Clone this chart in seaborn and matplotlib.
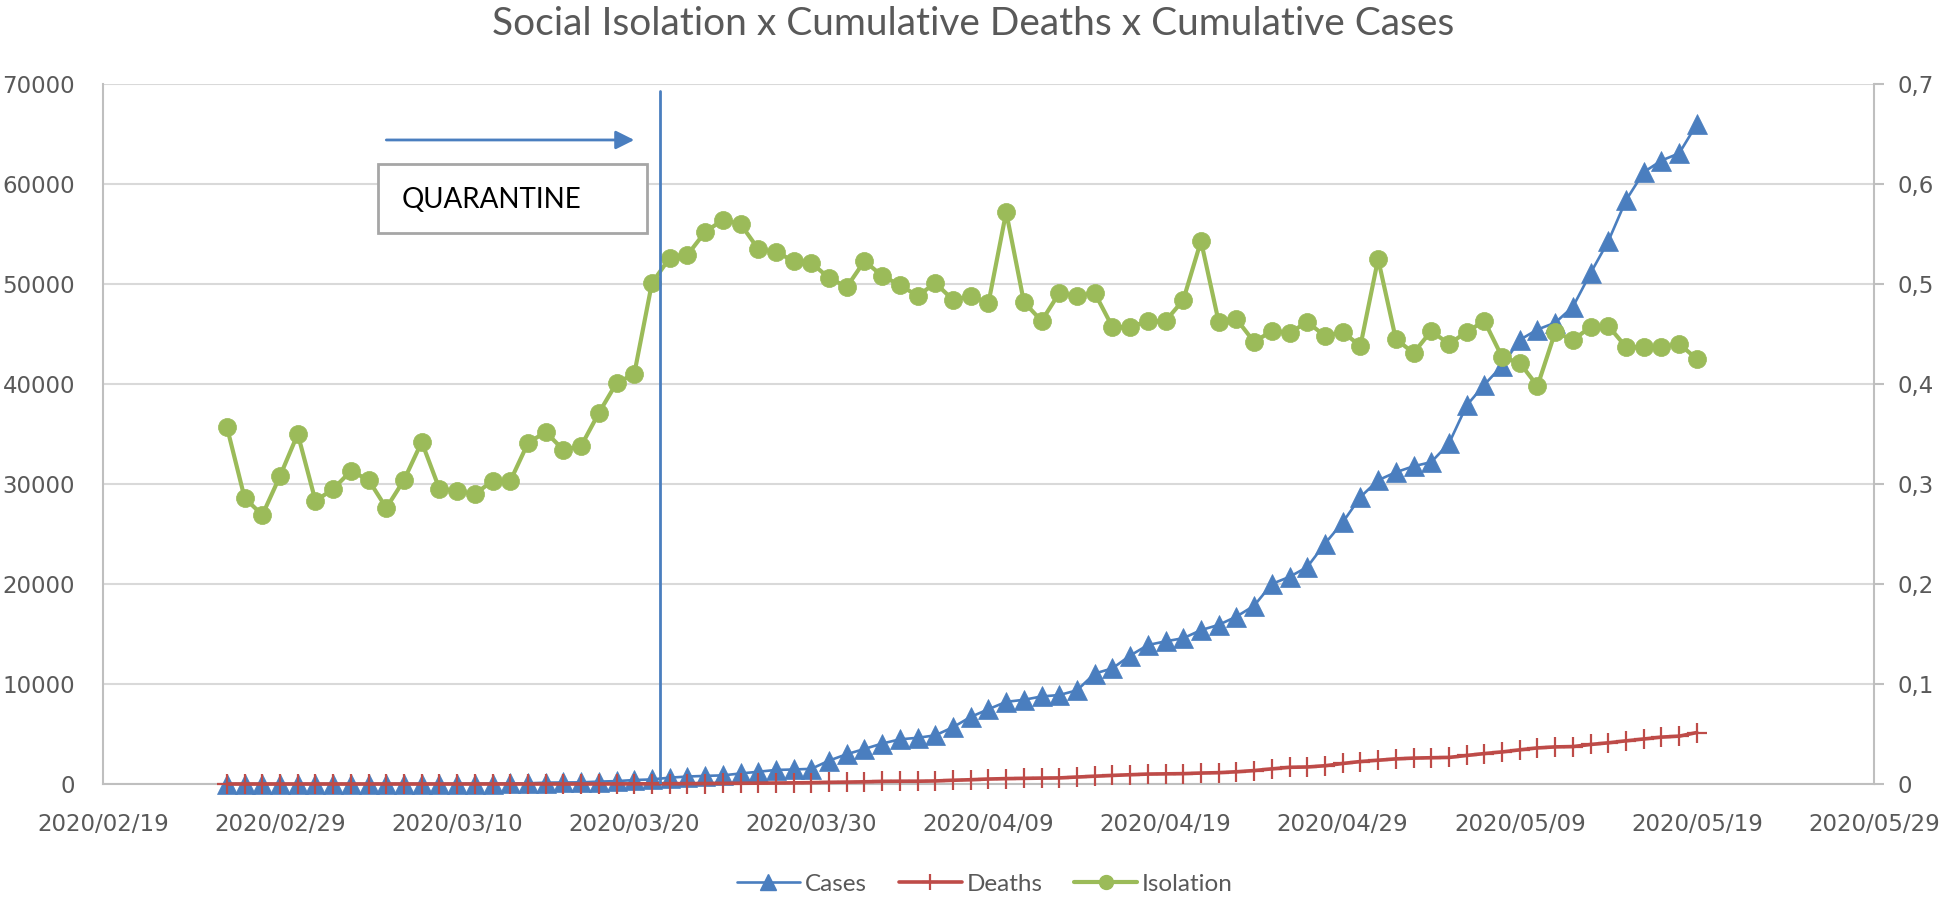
import numpy as np
import pandas as pd
import matplotlib
matplotlib.use("Agg")
import matplotlib.pyplot as plt
import matplotlib.dates as mdates
import seaborn as sns
from matplotlib.patches import Rectangle
from matplotlib.lines import Line2D

# ---------------- data ----------------
start_date = "2020-02-26"
end_date = "2020-05-19"

cases = [1, 1, 1, 2,
         2, 2, 2, 3, 6, 10, 13, 16, 16, 19, 30, 42, 56, 65, 136, 152, 164, 240, 286, 396,
         459, 631, 745, 810, 862, 1052, 1223, 1406, 1451, 1517, 2339,
         2981, 3506, 4048, 4466, 4620, 4866, 5682, 6708, 7480, 8216, 8419, 8755, 8895, 9371,
         11043, 11568, 12841, 13894, 14267, 14580, 15385, 15914, 16740, 17826, 20004, 20715,
         21696, 24041, 26158, 28698,
         30374, 31174, 31772, 32187, 34053, 37853, 39928, 41830, 44411, 45444, 46131, 47719,
         51097, 54286, 58378, 61183, 62345, 63066, 65995]

deaths = [0, 0, 0, 0,
          0, 0, 0, 0, 0, 0, 0, 0, 0, 0, 0, 0, 0, 0, 0, 0, 1, 4, 9, 15,
          22, 30, 40, 48, 58, 68, 84, 98, 113, 136, 164,
          188, 219, 260, 275, 275, 304, 371, 428, 496, 540, 560, 588, 608, 695,
          778, 853, 928, 991, 1015, 1037, 1093, 1134, 1221, 1345, 1512, 1667,
          1700, 1825, 2049, 2247,
          2375, 2511, 2586, 2627, 2654, 2851, 3045, 3206, 3416, 3608, 3709, 3743,
          3949, 4118, 4315, 4501, 4688, 4782, 5147]

isolation = [0.357, 0.286, 0.269, 0.308,
             0.350, 0.283, 0.295, 0.313, 0.304, 0.276, 0.304, 0.342, 0.295, 0.293,
             0.290, 0.303, 0.303, 0.341, 0.352, 0.334, 0.338, 0.371, 0.401, 0.410,
             0.501, 0.526, 0.529, 0.552, 0.564, 0.560, 0.535, 0.532, 0.523, 0.521, 0.506,
             0.497, 0.523, 0.508, 0.499, 0.488, 0.501, 0.484, 0.488, 0.481, 0.572,
             0.482, 0.463, 0.491, 0.488, 0.491, 0.457, 0.457, 0.463, 0.463, 0.484,
             0.543, 0.462, 0.465, 0.442, 0.453, 0.451, 0.462, 0.448, 0.452, 0.438,
             0.525, 0.445, 0.431, 0.453, 0.440, 0.452, 0.463, 0.427, 0.421, 0.398,
             0.452, 0.444, 0.457, 0.458, 0.437, 0.437, 0.437, 0.440, 0.425]

x_tick_dates = ["2020-02-19", "2020-02-29", "2020-03-10", "2020-03-20", "2020-03-30",
                "2020-04-09", "2020-04-19", "2020-04-29", "2020-05-09", "2020-05-19",
                "2020-05-29"]
left_ticks = [0, 10000, 20000, 30000, 40000, 50000, 60000, 70000]
right_ticks = [0, 0.1, 0.2, 0.3, 0.4, 0.5, 0.6, 0.7]
right_tick_labels = ["0", "0,1", "0,2", "0,3", "0,4", "0,5", "0,6", "0,7"]

title = "Social Isolation x Cumulative Deaths x Cumulative Cases"
quarantine_label = "QUARANTINE"
quarantine_line_date = "2020-03-21 11:00"
arrow_from_date = "2020-03-06"
arrow_to_date = "2020-03-20"
arrow_level = 64400

dates = pd.date_range(start_date, end_date, freq="D")
df = pd.DataFrame({"date": dates, "Cases": cases, "Deaths": deaths, "Isolation": isolation})

# ---------------- style ----------------
BLUE = "#4A7EBF"
RED = "#BE4B48"
GREEN = "#9BBB59"
GREY_TXT = "#595959"
GRID = "#D9D9D9"
AXIS = "#BFBFBF"

sns.set_theme(style="white")
plt.rcParams["font.family"] = ["DejaVu Sans"]

fig = plt.figure(figsize=(19.46, 9.0), dpi=100)
ax = fig.add_axes([0.0529, 0.1289, 0.9101, 0.7778])

sns.lineplot(data=df, x="date", y="Cases", ax=ax, color=BLUE, linewidth=1.9,
             marker="^", markersize=15, markeredgecolor=BLUE, markeredgewidth=0.5,
             clip_on=False, zorder=3)
sns.lineplot(data=df, x="date", y="Deaths", ax=ax, color=RED, linewidth=2.6,
             marker="+", markersize=14, markeredgecolor=RED, markeredgewidth=1.6,
             clip_on=False, zorder=4)

ax.set_xlim(pd.Timestamp(x_tick_dates[0]), pd.Timestamp(x_tick_dates[-1]))
ax.set_xticks(pd.to_datetime(x_tick_dates))
ax.xaxis.set_major_formatter(mdates.DateFormatter("%Y/%m/%d"))
ax.set_ylim(left_ticks[0], left_ticks[-1])
ax.set_yticks(left_ticks)
ax.set_xlabel("")
ax.set_ylabel("")
ax.grid(False)
ax.yaxis.grid(True, color=GRID, linewidth=1.5)
ax.set_axisbelow(True)
for s in ["top", "right"]:
    ax.spines[s].set_visible(False)
for s in ["left", "bottom"]:
    ax.spines[s].set_color(AXIS)
    ax.spines[s].set_linewidth(1.5)
ax.tick_params(axis="y", length=0, pad=20, labelsize=16.5, labelcolor=GREY_TXT)
ax.tick_params(axis="x", length=0, pad=21, labelsize=16.5, labelcolor=GREY_TXT)

ax2 = ax.twinx()
sns.lineplot(data=df, x="date", y="Isolation", ax=ax2, color=GREEN, linewidth=3.0,
             marker="o", markersize=13, markeredgecolor=GREEN, markeredgewidth=0.5,
             zorder=3)
ax2.set_ylim(right_ticks[0], right_ticks[-1])
ax2.set_yticks(right_ticks)
ax2.set_yticklabels(right_tick_labels)
ax2.set_ylabel("")
ax2.grid(False)
for s in ["top", "left", "bottom"]:
    ax2.spines[s].set_visible(False)
ax2.spines["right"].set_color(AXIS)
ax2.spines["right"].set_linewidth(1.5)
ax2.tick_params(axis="y", length=7, width=1.5, color=AXIS, pad=10,
                labelsize=16.5, labelcolor=GREY_TXT)

# quarantine annotations
ax2.axvline(pd.Timestamp(quarantine_line_date), ymin=0, ymax=0.99, color=BLUE,
            linewidth=2, zorder=6)
ax.annotate("", xy=(mdates.date2num(pd.Timestamp(arrow_to_date)), arrow_level),
            xytext=(mdates.date2num(pd.Timestamp(arrow_from_date)), arrow_level),
            arrowprops=dict(arrowstyle="-|>", color=BLUE, lw=2, mutation_scale=28,
                            shrinkA=0, shrinkB=0))
ax2.add_patch(Rectangle((0.1553, 0.787), 0.1519, 0.099, transform=ax2.transAxes,
                        facecolor="white", edgecolor="#A6A6A6", linewidth=2, zorder=5))
ax2.text(0.1688, 0.834, quarantine_label, transform=ax2.transAxes, ha="left",
         va="center", fontsize=20, color="black", family=["Lato", "DejaVu Sans"], zorder=6)

# title
fig.text(0.5, 1 - 24 / 900, title, ha="center", va="center", fontsize=28,
         color=GREY_TXT, family=["Lato", "DejaVu Sans"])

# legend
handles = [
    Line2D([], [], color=BLUE, lw=1.9, marker="^", markersize=11, markeredgecolor=BLUE),
    Line2D([], [], color=RED, lw=2.6, marker="+", markersize=12, markeredgecolor=RED,
           markeredgewidth=1.6),
    Line2D([], [], color=GREEN, lw=3.0, marker="o", markersize=10, markeredgecolor=GREEN),
]
fig.legend(handles, ["Cases", "Deaths", "Isolation"], loc="center",
           bbox_to_anchor=(985 / 1946, 1 - 884 / 900), ncol=3, frameon=False,
           prop=dict(family=["Lato", "DejaVu Sans"], size=17.5), labelcolor=GREY_TXT,
           handlelength=2.6, handletextpad=0.2, columnspacing=1.3, numpoints=1)

fig.savefig("out.png", dpi=100)
